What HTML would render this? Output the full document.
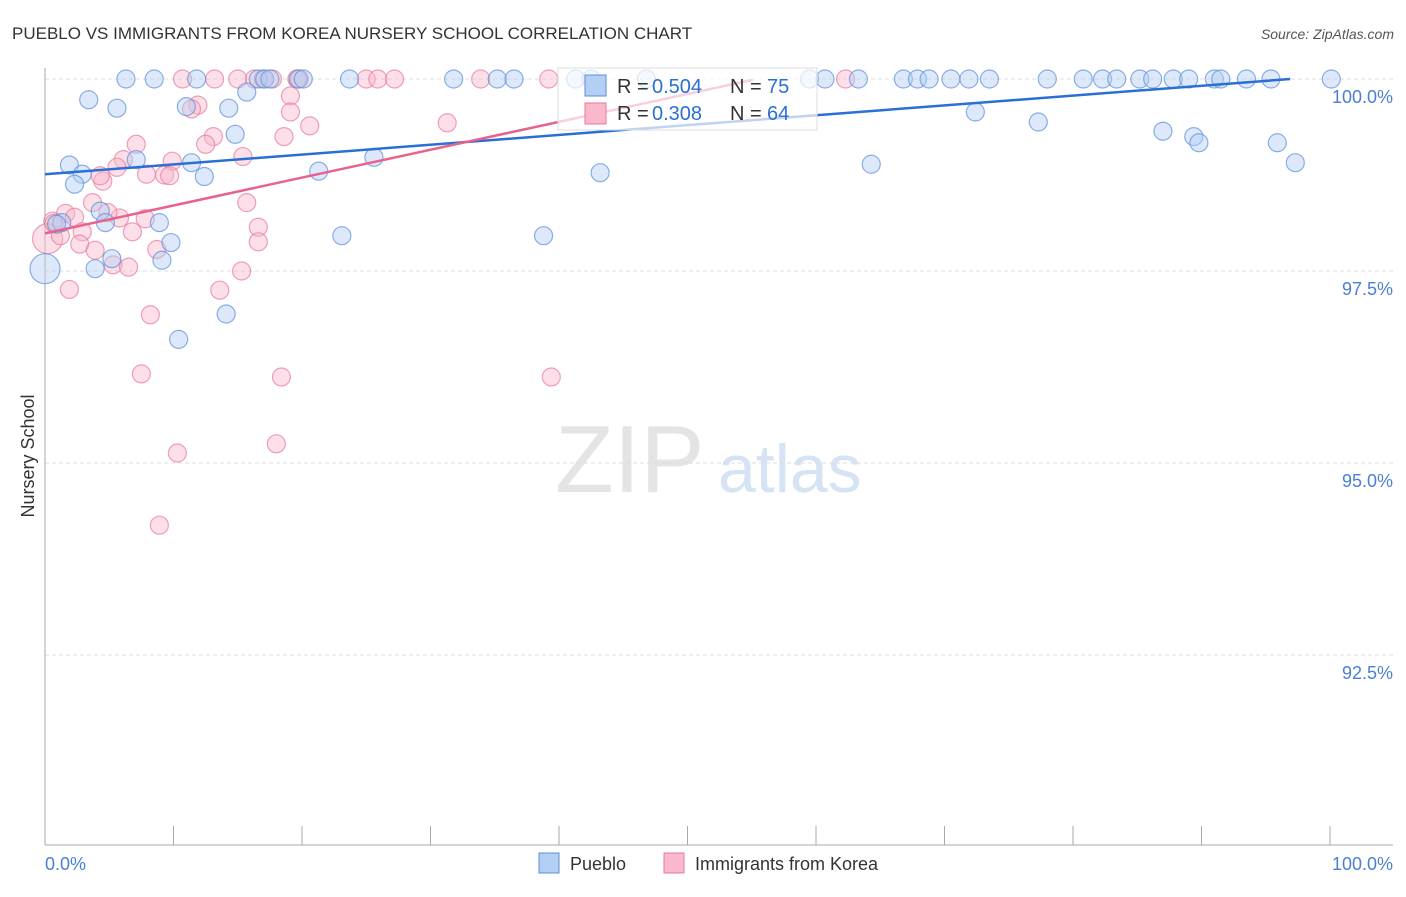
<!DOCTYPE html>
<html><head><meta charset="utf-8"><style>
body{margin:0;background:#fff;font-family:"Liberation Sans",sans-serif}
svg text{font-family:"Liberation Sans",sans-serif}
</style></head><body>
<svg id="c" width="1406" height="892">
<text x="12" y="39" font-size="17" fill="#333">PUEBLO VS IMMIGRANTS FROM KOREA NURSERY SCHOOL CORRELATION CHART</text>
<text x="1394" y="39" font-size="14" fill="#555" font-style="italic" text-anchor="end">Source: ZipAtlas.com</text>
<text x="555" y="492" font-size="96" fill="#e4e4e4" font-family="Liberation Serif">ZIP</text>
<text x="718" y="492" font-size="68" fill="#d6e3f4">atlas</text>
<text transform="translate(34,456) rotate(-90)" font-size="18" fill="#333" text-anchor="middle">Nursery School</text>
<g id="grid"></g><g id="pts"></g><g id="trend"></g><g id="leg"></g>
</svg>
<script>
const yTicks=[100,97.5,95,92.5];
const yTickLabels=["100.0%","97.5%","95.0%","92.5%"];
const xTickLabels=["0.0%","100.0%"];
const puebloX=[6.3,8.5,11.8,16.6,17.1,17.5,19.7,20.1,23.7,31.8,35.2,36.5,41.3,42.5,46.8,59.5,60.7,63.3,66.8,67.9,68.8,70.5,71.9,73.5,78,80.8,82.3,83.4,85.2,86.2,87.8,89,91,91.5,93.5,95.4,100.1,
3.4,5.6,11,14.3,15.7,14.8,7.1,1.9,2.9,2.3,11.4,12.4,21.3,25.6,4.3,4.7,8.9,9.8,9.1,5.2,3.9,0,23.1,38.8,43.2,14.1,10.4,72.4,77.3,64.3,87,89.4,89.8,95.9,97.3,1.3,0.9];
const puebloY=[100,100,100,100,100,100,100,100,100,100,100,100,100,100,100,100,100,100,100,100,100,100,100,100,100,100,100,100,100,100,100,100,100,100,100,100,100,
99.73,99.62,99.64,99.62,99.83,99.28,98.95,98.88,98.76,98.63,98.91,98.73,98.8,98.98,98.28,98.13,98.13,97.87,97.64,97.66,97.53,97.53,97.96,97.96,98.78,96.94,96.61,99.57,99.44,98.89,99.32,99.25,99.17,99.17,98.91,98.13,98.11];
const koreaX=[10.7,13.2,15,16.3,17,17.7,19.6,19.8,25,25.9,27.2,33.9,39.2,62.3,
19.1,19.1,20.6,18.6,15.4,13.1,12.5,11.9,11.4,7.1,6.1,5.6,4.5,4.3,9.9,9.3,9.7,7.9,3.7,1.6,2.3,0.6,0.2,1.2,2.9,2.7,3.9,5.8,4.9,6.8,7.8,8.7,5.3,6.5,1.9,8.2,13.6,15.3,15.7,16.6,16.6,7.5,10.3,8.9,18.4,18,39.4,31.3,0.7];
const koreaY=[100,100,100,100,100,100,100,100,100,100,100,100,100,100,
99.78,99.57,99.39,99.25,98.99,99.25,99.15,99.66,99.61,99.15,98.95,98.85,98.67,98.74,98.93,98.75,98.74,98.76,98.39,98.25,98.2,98.15,97.92,97.96,98.01,97.85,97.77,98.19,98.26,98.01,98.18,97.78,97.58,97.55,97.26,96.93,97.25,97.5,98.39,98.07,97.88,96.16,95.13,94.19,96.12,95.25,96.12,99.43,98.12];
const puebloTrendX=[0,96.9]; const puebloTrendY=[98.76,100];
const koreaTrendX=[0,55.1]; const koreaTrendY=[97.99,99.99];
const X=v=>45+v*12.85, Y=v=>79+(100-v)*76.8;
const NS='http://www.w3.org/2000/svg';
function mk(t,a,p){const e=document.createElementNS(NS,t);for(const k in a)e.setAttribute(k,a[k]);p.appendChild(e);return e;}
const g=document.getElementById('grid');
yTicks.forEach((t,i)=>{
 const l=mk('line',{x1:45,x2:1393,y1:Y(t),y2:Y(t),stroke:'#ddd','stroke-dasharray':'4,3'},g);
 
 
 const tx=mk('text',{x:1393,y:Y(t)+24,'font-size':18,fill:'#4a7fd4','text-anchor':'end'},g);
 tx.textContent=yTickLabels[i];
 
 
});
let ax=mk('line',{x1:45,x2:45,y1:68,y2:845,stroke:'#aaa'},g);


ax=mk('line',{x1:45,x2:1393,y1:845,y2:845,stroke:'#aaa'},g);


for(let i=0;i<=10;i++){const t=mk('line',{x1:X(i*10),x2:X(i*10),y1:826,y2:845,stroke:'#aaa'},g);
 
 }
[[0,'start',45],[100,'end',1393]].forEach((d,i)=>{const t=mk('text',{x:d[2],y:870,'font-size':18,fill:'#4a7fd4','text-anchor':d[1]},g);t.textContent=xTickLabels[i];
 
 });
const P=document.getElementById('pts');
function pts(xs,ys,fill,stroke,name){xs.forEach((x,i)=>{const big=(x<=0.3);const c=mk('circle',{cx:X(x),cy:Y(ys[i]),r:big?15:9,fill:fill,'fill-opacity':0.45,stroke:stroke,'stroke-opacity':0.7,'stroke-width':1.2},P);
 
 });}
pts(koreaX,koreaY,'#f9b8cb','#e8799b','korea-point');
pts(puebloX,puebloY,'#b3cff3','#5b8fd8','pueblo-point');
const T=document.getElementById('trend');
let pl=mk('polyline',{points:puebloTrendX.map((x,i)=>X(x)+','+Y(puebloTrendY[i])).join(' '),fill:'none',stroke:'#2a6fd6','stroke-width':2.5},T);


pl=mk('polyline',{points:koreaTrendX.map((x,i)=>X(x)+','+Y(koreaTrendY[i])).join(' '),fill:'none',stroke:'#e8628e','stroke-width':2.5},T);


</script>
<svg style="position:absolute;left:0;top:0" width="1406" height="892">
<g>
<rect x="558" y="68" width="259" height="62" fill="#fff" fill-opacity="0.7" stroke="#ddd"/>
<rect x="585" y="75" width="21" height="21" fill="#b3cff3" stroke="#5b8fd8"/>
<rect x="585" y="103" width="21" height="21" fill="#f9b8cb" stroke="#e8799b"/>
<text x="617" y="93" font-size="20" fill="#333">R =</text>
<text x="652" y="93" font-size="20" fill="#2a6fd6">0.504</text>
<text x="730" y="93" font-size="20" fill="#333">N =</text>
<text x="767" y="93" font-size="20" fill="#2a6fd6">75</text>
<text x="617" y="120" font-size="20" fill="#333">R =</text>
<text x="652" y="120" font-size="20" fill="#2a6fd6">0.308</text>
<text x="730" y="120" font-size="20" fill="#333">N =</text>
<text x="767" y="120" font-size="20" fill="#2a6fd6">64</text>
</g>
<g>
<rect x="539" y="853" width="20" height="20" fill="#b3cff3" stroke="#5b8fd8"/>
<text x="570" y="870" font-size="18" fill="#333">Pueblo</text>
<rect x="664" y="853" width="20" height="20" fill="#f9b8cb" stroke="#e8799b"/>
<text x="695" y="870" font-size="18" fill="#333">Immigrants from Korea</text>
</g>
</svg>
</body></html>
